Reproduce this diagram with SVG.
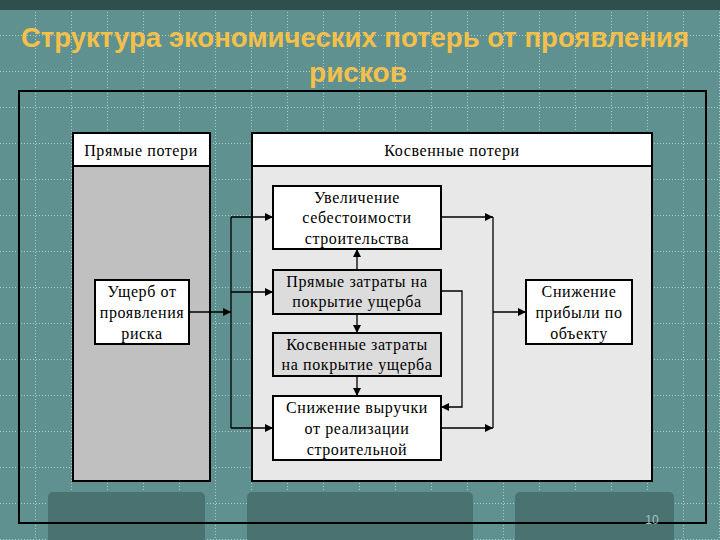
<svg xmlns="http://www.w3.org/2000/svg" width="720" height="540" viewBox="0 0 720 540">
<defs>
<pattern id="grid" width="36" height="36" patternUnits="userSpaceOnUse" x="0" y="0">
<path d="M0 35.5H36M35.5 0V36" stroke="#a8cccb" stroke-width="1" stroke-dasharray="1 2" fill="none"/>
</pattern>
<marker id="ah" viewBox="0 0 10 10" refX="10" refY="5" markerWidth="8" markerHeight="8" markerUnits="userSpaceOnUse" orient="auto"><path d="M0 0L10 5L0 10z" fill="#000"/></marker>
</defs>
<style>
.t{font-family:"Liberation Serif",serif;font-size:16px;letter-spacing:0.6px;fill:#000;text-anchor:middle}
.b{stroke:#000;stroke-width:2}
.c{stroke:#000;stroke-width:1.3;fill:none}
</style>
<rect width="720" height="540" fill="#5f9190"/>
<rect width="720" height="540" fill="url(#grid)"/>
<rect width="720" height="10" fill="#2f4f4c"/>
<g id="tabs" fill="#4a7270">
<rect x="48" y="492" width="157" height="55" rx="5"/>
<rect x="247" y="492" width="226" height="55" rx="5"/>
<rect x="515" y="492" width="159" height="55" rx="5"/>
</g>
<g id="title" font-family="Liberation Sans,sans-serif" font-weight="bold" fill="#f5c04a" text-anchor="middle">
<text x="355" y="47" font-size="28" textLength="668" lengthAdjust="spacingAndGlyphs">Структура экономических потерь от проявления</text>
<text x="358" y="82" font-size="28" textLength="98" lengthAdjust="spacingAndGlyphs">рисков</text>
</g>
<rect x="19" y="91" width="687" height="432" fill="none" stroke="#000" stroke-width="2"/>
<g id="direct">
<rect x="73" y="133" width="137" height="348" fill="#c0c0c0" class="b"/>
<rect x="73" y="133" width="137" height="33" fill="#fff" class="b"/>
<text class="t" x="141" y="156">Прямые потери</text>
</g>
<g id="indirect">
<rect x="252" y="133" width="400" height="348" fill="#e8e8e8" class="b"/>
<rect x="252" y="133" width="400" height="33" fill="#fff" class="b"/>
<text class="t" x="452" y="156">Косвенные потери</text>
</g>
<g id="connectors">
<line class="c" x1="190" y1="312" x2="231" y2="312" marker-end="url(#ah)"/>
<line class="c" x1="231" y1="217" x2="231" y2="428"/>
<line class="c" x1="231" y1="217" x2="273" y2="217" marker-end="url(#ah)"/>
<line class="c" x1="231" y1="292" x2="273" y2="292" marker-end="url(#ah)"/>
<line class="c" x1="231" y1="428" x2="273" y2="428" marker-end="url(#ah)"/>
<line class="c" x1="357" y1="270" x2="357" y2="249" marker-end="url(#ah)" stroke-width="2"/>
<line class="c" x1="357" y1="314" x2="357" y2="333" marker-end="url(#ah)" stroke-width="2"/>
<line class="c" x1="357" y1="376" x2="357" y2="396" marker-end="url(#ah)" stroke-width="2"/>
<polyline class="c" points="441,291 462,291 462,407 441,407" marker-end="url(#ah)"/>
<line class="c" x1="441" y1="217" x2="493" y2="217" marker-end="url(#ah)"/>
<line class="c" x1="441" y1="428" x2="493" y2="428" marker-end="url(#ah)"/>
<line class="c" x1="493" y1="217" x2="493" y2="428"/>
<line class="c" x1="493" y1="312" x2="526" y2="312" marker-end="url(#ah)"/>
</g>
<g id="n_ushcherb">
<rect x="95" y="280" width="94" height="64" fill="#fff" class="b"/>
<text class="t" x="142" y="297" letter-spacing="0.2">Ущерб от</text><text class="t" x="142" y="318" letter-spacing="0.2">проявления</text><text class="t" x="142" y="339" letter-spacing="0.2">риска</text>
</g>
<g id="n_uvel">
<rect x="273" y="186" width="168" height="63" fill="#fff" class="b"/>
<text class="t" x="357" y="203">Увеличение</text><text class="t" x="357" y="223">себестоимости</text><text class="t" x="357" y="244">строительства</text>
</g>
<g id="n_pryam">
<rect x="273" y="270" width="168" height="44" fill="#dcdcdc" class="b"/>
<text class="t" x="357" y="287">Прямые затраты на</text><text class="t" x="357" y="307">покрытие ущерба</text>
</g>
<g id="n_kosv">
<rect x="273" y="333" width="168" height="43" fill="#dcdcdc" class="b"/>
<text class="t" x="357" y="350">Косвенные затраты</text><text class="t" x="357" y="370">на покрытие ущерба</text>
</g>
<g id="n_vyruchka">
<rect x="273" y="396" width="168" height="64" fill="#fff" class="b"/>
<text class="t" x="357" y="413">Снижение выручки</text><text class="t" x="357" y="434">от реализации</text><text class="t" x="357" y="455">строительной</text>
</g>
<g id="n_pribyl">
<rect x="526" y="280" width="106" height="64" fill="#fff" class="b"/>
<text class="t" x="579" y="297">Снижение</text><text class="t" x="579" y="318">прибыли по</text><text class="t" x="579" y="339">объекту</text>
</g>
<text x="652" y="524" font-family="Liberation Sans,sans-serif" font-size="12" fill="#9fc2c0" text-anchor="middle">10</text>
</svg>
